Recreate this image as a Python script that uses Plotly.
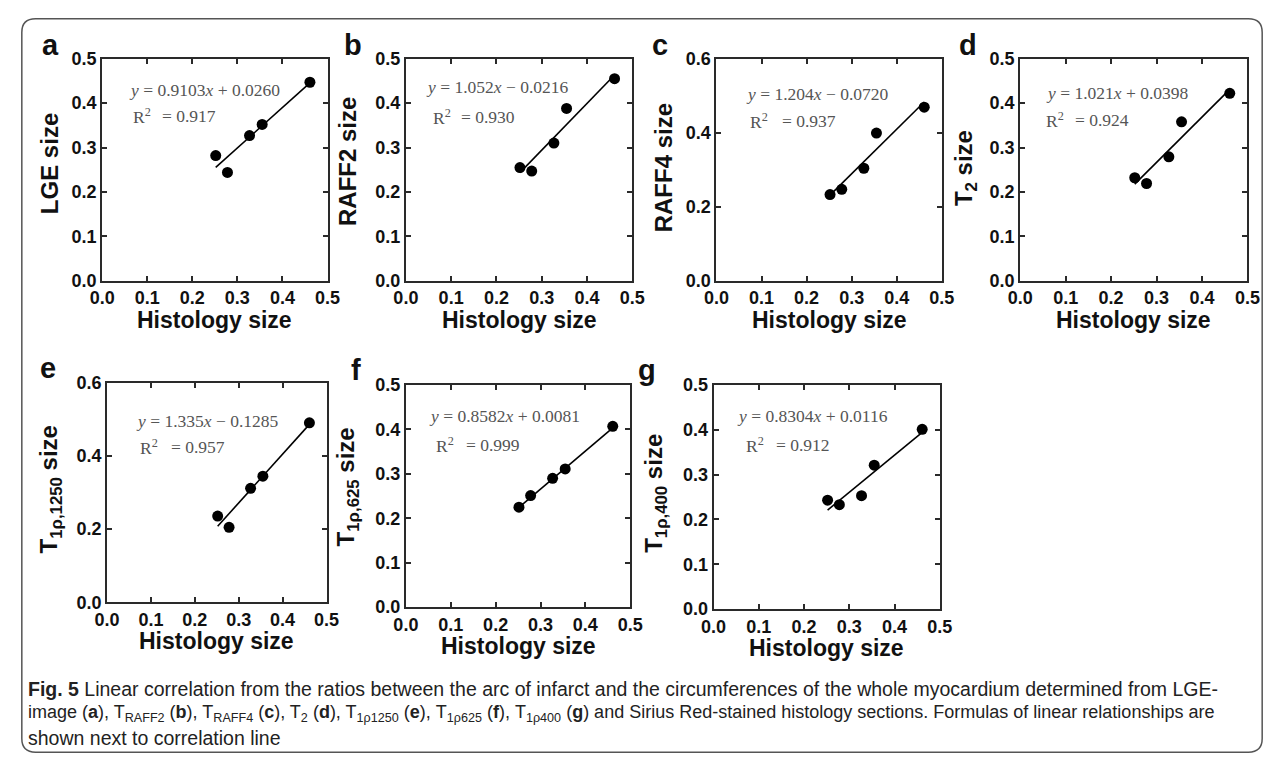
import plotly.graph_objects as go

# ---------------- data ----------------
histology = [0.252, 0.278, 0.327, 0.355, 0.461]

panel_letters = ["a", "b", "c", "d", "e", "f", "g"]
y_titles = ["LGE size", "RAFF2 size", "RAFF4 size", "T<sub>2</sub> size",
            "T<sub>1ρ,1250</sub> size", "T<sub>1ρ,625</sub> size", "T<sub>1ρ,400</sub> size"]
x_title = "Histology size"

lge_size = [0.282, 0.244, 0.327, 0.352, 0.447]
raff2_size = [0.255, 0.247, 0.310, 0.388, 0.455]
raff4_size = [0.233, 0.247, 0.304, 0.399, 0.469]
t2_size = [0.232, 0.219, 0.279, 0.358, 0.422]
t1rho1250_size = [0.236, 0.205, 0.312, 0.345, 0.491]
t1rho625_size = [0.225, 0.251, 0.290, 0.311, 0.407]
t1rho400_size = [0.243, 0.233, 0.253, 0.321, 0.401]
series = [lge_size, raff2_size, raff4_size, t2_size, t1rho1250_size, t1rho625_size, t1rho400_size]

# drawn regression lines (as plotted)
line_slopes = [0.9103, 1.052, 1.204, 1.021, 1.335, 0.8582, 0.8304]
line_intercepts = [0.0260, -0.0216, -0.0720, -0.0398, -0.1285, 0.0081, 0.0116]
# equation labels (as printed)
slope_txt = ["0.9103", "1.052", "1.204", "1.021", "1.335", "0.8582", "0.8304"]
intercept_txt = ["+ 0.0260", "− 0.0216", "− 0.0720", "+ 0.0398", "− 0.1285", "+ 0.0081", "+ 0.0116"]
r2_txt = ["0.917", "0.930", "0.937", "0.924", "0.957", "0.999", "0.912"]

y_max = [0.5, 0.5, 0.6, 0.5, 0.6, 0.5, 0.5]
y_step = [0.1, 0.1, 0.2, 0.1, 0.2, 0.1, 0.1]
x_ticks = [0.0, 0.1, 0.2, 0.3, 0.4, 0.5]

caption_lines = [
    "<b>Fig. 5</b> Linear correlation from the ratios between the arc of infarct and the circumferences of the whole myocardium determined from LGE-",
    "image (<b>a</b>), T<sub>RAFF2</sub> (<b>b</b>), T<sub>RAFF4</sub> (<b>c</b>), T<sub>2</sub> (<b>d</b>), T<sub>1ρ1250</sub> (<b>e</b>), "
    "T<sub>1ρ625</sub> (<b>f</b>), T<sub>1ρ400</sub> (<b>g</b>) and Sirius Red-stained histology sections. Formulas of linear relationships are",
    "shown next to correlation line",
]

# ---------------- layout (pixel geometry) ----------------
W, H = 1284, 771
def px(p):
    return p / W
def py(p):
    return 1 - p / H

# plot boxes: left, top, right, bottom (px)
boxes = [(91, 50, 321, 278), (401, 50, 632, 278), (718, 50, 948, 278), (1028, 50, 1260, 278),
         (96, 383, 320, 608), (401, 385, 630, 613), (715, 385, 946, 615)]
letter_pos = [(28, 47), (336, 47), (650, 47), (963, 47), (26, 379), (343, 381), (636, 381)]
ytitle_pos = [(38, 158), (342, 156), (664, 162), (972, 162), (38, 492), (341, 490), (655, 496)]
# equation / R2 positions as fractions of plot box
eq_pos = [(0.112, 0.861), (0.082, 0.873), (0.122, 0.842), (0.103, 0.846), (0.121, 0.828), (0.096, 0.860), (0.095, 0.862)]
r2_pos = [(0.126, 0.744), (0.113, 0.737), (0.139, 0.719), (0.103, 0.724), (0.143, 0.707), (0.127, 0.728), (0.134, 0.732)]
r2eq_x = [0.257, 0.234, 0.283, 0.233, 0.281, 0.258, 0.267]

SANS = "Liberation Sans, Arial, Helvetica, sans-serif"
SERIF = "Liberation Serif, Times New Roman, serif"
AXC = "#2a2a2a"

fig = go.Figure()
annotations = []
shapes = []
layout = dict(width=W, height=H, autosize=False, margin=dict(l=0, r=0, t=0, b=0),
              paper_bgcolor="white", plot_bgcolor="white", showlegend=False)

xmin, xmax = min(histology), max(histology)
for i in range(7):
    n = "" if i == 0 else str(i + 1)
    xa, ya = "x" + n, "y" + n
    l, t, r, b = boxes[i]
    fig.add_trace(go.Scatter(x=histology, y=series[i], mode="markers", xaxis=xa, yaxis=ya,
                             marker=dict(color="black", size=11), hoverinfo="x+y"))
    fig.add_trace(go.Scatter(x=[xmin, xmax],
                             y=[line_slopes[i] * xmin + line_intercepts[i], line_slopes[i] * xmax + line_intercepts[i]],
                             mode="lines", xaxis=xa, yaxis=ya, line=dict(color="black", width=1.6),
                             hoverinfo="skip"))
    yt = [round(k * y_step[i], 2) for k in range(int(round(y_max[i] / y_step[i])) + 1)]
    common = dict(showgrid=False, zeroline=False, showline=True, linecolor=AXC, linewidth=2,
                  mirror="ticks", ticks="inside", ticklen=5, tickwidth=1.5, tickcolor=AXC,
                  tickfont=dict(family=SANS, size=18, color="#111", weight="bold"), tickformat=".1f",
                  fixedrange=True)
    layout["xaxis" + n] = dict(common, domain=[px(l), px(r)], range=[0, 0.5], tickvals=x_ticks,
                               anchor=ya)
    layout["yaxis" + n] = dict(common, domain=[py(b), py(t)], range=[0, y_max[i]], tickvals=yt,
                               anchor=xa)
    # x title
    annotations.append(dict(text="<b>" + x_title + "</b>", xref="paper", yref="paper",
                            x=px((l + r) / 2), y=py(b + 40), xanchor="center", yanchor="middle",
                            showarrow=False, font=dict(family=SANS, size=23, color="#111")))
    # y title
    annotations.append(dict(text="<b>" + y_titles[i] + "</b>", xref="paper", yref="paper",
                            x=px(ytitle_pos[i][0]), y=py(ytitle_pos[i][1]), xanchor="center", yanchor="middle",
                            textangle=-90, showarrow=False, font=dict(family=SANS, size=24, color="#111")))
    # panel letter
    annotations.append(dict(text="<b>" + panel_letters[i] + "</b>", xref="paper", yref="paper",
                            x=px(letter_pos[i][0]), y=py(letter_pos[i][1] + 7), xanchor="left", yanchor="bottom",
                            showarrow=False, font=dict(family=SANS, size=29, color="#111")))
    # equation
    dom = xa + " domain"
    ydom = ya + " domain"
    annotations.append(dict(text="<i>y</i> = " + slope_txt[i] + "<i>x</i> " + intercept_txt[i],
                            xref=dom, yref=ydom, x=eq_pos[i][0], y=eq_pos[i][1], xanchor="left",
                            yanchor="middle", showarrow=False, font=dict(family=SERIF, size=17.5, color="#555")))
    annotations.append(dict(text="R<sup>2</sup>", xref=dom, yref=ydom, x=r2_pos[i][0], y=r2_pos[i][1],
                            xanchor="left", yanchor="middle", showarrow=False,
                            font=dict(family=SERIF, size=17.5, color="#555")))
    annotations.append(dict(text="= " + r2_txt[i], xref=dom, yref=ydom, x=r2eq_x[i], y=r2_pos[i][1],
                            xanchor="left", yanchor="middle", showarrow=False,
                            font=dict(family=SERIF, size=17.5, color="#555")))

# caption
cap_y = [697, 722, 747]
cap_size = [19.5, 18, 19.5]
for k, line in enumerate(caption_lines):
    annotations.append(dict(text=line, xref="paper", yref="paper", x=px(13), y=py(cap_y[k]),
                            xanchor="left", yanchor="middle", showarrow=False,
                            font=dict(family="Liberation Sans Narrow, Arial Narrow, Liberation Sans, sans-serif",
                                      size=cap_size[k], color="#222")))

# rounded outer frame
L0, T0, R0, B0, rad = 9, 9, 1275, 762, 14
path = (f"M {px(L0 + rad)} {py(T0)} L {px(R0 - rad)} {py(T0)} Q {px(R0)} {py(T0)} {px(R0)} {py(T0 + rad)} "
        f"L {px(R0)} {py(B0 - rad)} Q {px(R0)} {py(B0)} {px(R0 - rad)} {py(B0)} "
        f"L {px(L0 + rad)} {py(B0)} Q {px(L0)} {py(B0)} {px(L0)} {py(B0 - rad)} "
        f"L {px(L0)} {py(T0 + rad)} Q {px(L0)} {py(T0)} {px(L0 + rad)} {py(T0)} Z")
shapes.append(dict(type="path", path=path, xref="paper", yref="paper",
                   line=dict(color="#555", width=1.5), layer="below"))

layout["annotations"] = annotations
layout["shapes"] = shapes
fig.update_layout(**layout)
fig.write_html("out.html", config={"displayModeBar": False},
               post_script="document.body.style.margin='0';document.body.style.overflow='hidden';")
